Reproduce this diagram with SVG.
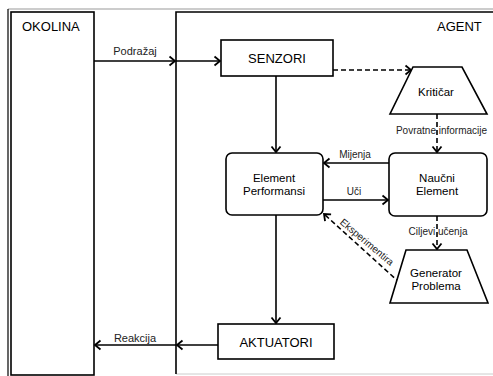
<svg xmlns="http://www.w3.org/2000/svg" width="493" height="376" viewBox="0 0 493 376">
<defs>
<marker id="arr" markerWidth="10" markerHeight="12" refX="7" refY="6" orient="auto" markerUnits="userSpaceOnUse">
<path d="M1.5,1.5 L7,6 L1.5,10.5" fill="none" stroke="#000" stroke-width="1.8"/>
</marker>
<style>
.box{fill:#fff;stroke:#000;stroke-width:1.6}
.ln{fill:none;stroke:#000;stroke-width:1.6}
.dash{fill:none;stroke:#000;stroke-width:1.6;stroke-dasharray:5,3}
text{font-family:"Liberation Sans",Arial,sans-serif;fill:#000}
.big{font-size:13px}
.mid{font-size:11.5px;text-anchor:middle}
.sm{font-size:10px;text-anchor:middle;fill:#222}
</style>
</defs>
<rect width="493" height="376" fill="#fff"/>
<g id="frame">
<line x1="8" y1="9" x2="493" y2="9" stroke="#999" stroke-width="1"/>
<line x1="8" y1="9" x2="8" y2="376" stroke="#000" stroke-width="1.2"/>
<line x1="176" y1="374" x2="493" y2="374" stroke="#ccc" stroke-width="1"/>
</g>
<g id="okolina">
<rect class="box" x="11" y="12" width="83" height="363"/>
<text class="big" x="22" y="31">OKOLINA</text>
</g>
<g id="agent">
<path class="ln" d="M500,12 H176 V374"/>
<text class="big" x="437" y="31">AGENT</text>
</g>
<g id="connectors">
<line class="ln" x1="94" y1="61" x2="175" y2="61" marker-end="url(#arr)"/>
<line class="ln" x1="176" y1="61" x2="220" y2="61" marker-end="url(#arr)"/>
<line class="ln" x1="218" y1="345" x2="177" y2="345" marker-end="url(#arr)"/>
<line class="ln" x1="176" y1="345" x2="95" y2="345" marker-end="url(#arr)"/>
<line class="ln" x1="276" y1="76" x2="276" y2="152" marker-end="url(#arr)"/>
<line class="ln" x1="276" y1="215" x2="276" y2="323" marker-end="url(#arr)"/>
<line class="dash" x1="333" y1="70" x2="411" y2="70" marker-end="url(#arr)"/>
<line class="dash" x1="437" y1="114" x2="437" y2="152" marker-end="url(#arr)"/>
<line class="ln" x1="389" y1="163" x2="324" y2="163" marker-end="url(#arr)"/>
<line class="ln" x1="323" y1="200" x2="388" y2="200" marker-end="url(#arr)"/>
<line class="dash" x1="437" y1="216" x2="437" y2="249" marker-end="url(#arr)"/>
<line class="dash" x1="400" y1="283" x2="324" y2="214" marker-end="url(#arr)"/>
<text class="sm" x="135" y="55" style="font-size:11px">Podražaj</text>
<text class="sm" x="135" y="342" style="font-size:11px">Reakcija</text>
<text class="sm" x="441.5" y="134">Povratne informacije</text>
<text class="sm" x="355" y="158">Mijenja</text>
<text class="sm" x="354" y="195">Uči</text>
<text class="sm" x="438" y="235">Ciljevi učenja</text>
<text class="sm" transform="translate(367,242) rotate(40)" x="0" y="3.5">Eksperimentira</text>
</g>
<g id="senzori">
<rect class="box" x="221" y="40" width="112" height="36"/>
<text class="big" x="277" y="63" text-anchor="middle">SENZORI</text>
</g>
<g id="kriticar">
<polygon class="box" points="413,67 462,67 487,114 390,114"/>
<text class="mid" x="436" y="96">Kritičar</text>
</g>
<g id="element-performansi">
<rect class="box" x="226" y="153" width="97" height="62" rx="6"/>
<text class="mid" x="274" y="182">Element</text>
<text class="mid" x="274" y="195">Performansi</text>
</g>
<g id="naucni-element">
<rect class="box" x="389" y="153" width="98" height="63" rx="6"/>
<text class="mid" x="437" y="182">Naučni</text>
<text class="mid" x="437" y="195">Element</text>
</g>
<g id="generator-problema">
<polygon class="box" points="406,250 467,250 488,303 390,303"/>
<text class="mid" x="436" y="277">Generator</text>
<text class="mid" x="436" y="290">Problema</text>
</g>
<g id="aktuatori">
<rect class="box" x="218" y="324" width="116" height="35"/>
<text class="big" x="276" y="347" text-anchor="middle">AKTUATORI</text>
</g>
</svg>
